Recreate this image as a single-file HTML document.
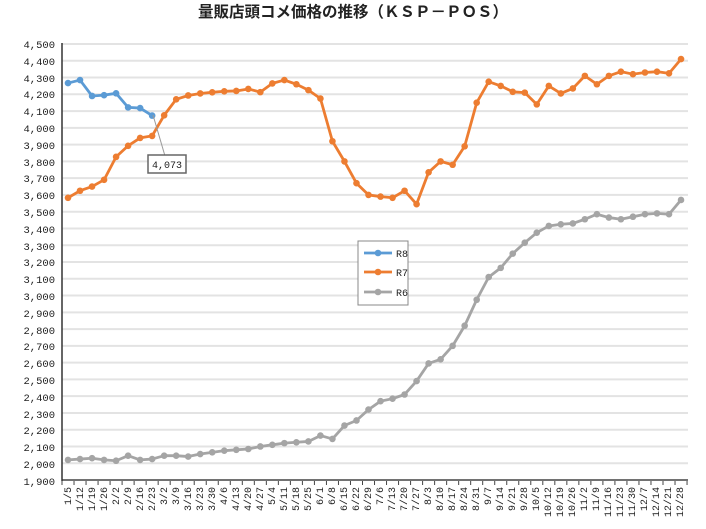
<!DOCTYPE html>
<html><head><meta charset="utf-8"><style>
body{margin:0;background:#fff;}
svg text{font-family:"Liberation Mono","Noto Sans CJK JP",monospace;}
svg text.t{font-family:"Liberation Sans","Noto Sans CJK JP",sans-serif;}
</style></head><body>
<svg id="s" width="706" height="524" xmlns="http://www.w3.org/2000/svg">
<rect width="706" height="524" fill="#fff"/>
<text class="t" x="353" y="17" text-anchor="middle" font-size="15.5" font-weight="bold" fill="#222">量販店頭コメ価格の推移（ＫＳＰ－ＰＯＳ）</text>
<g id="grid"></g>
<g font-size="10.5" fill="#222" text-anchor="end">
<text x="55" y="48">4,500</text><text x="55" y="65">4,400</text><text x="55" y="82">4,300</text><text x="55" y="98">4,200</text><text x="55" y="115">4,100</text><text x="55" y="132">4,000</text><text x="55" y="149">3,900</text><text x="55" y="166">3,800</text><text x="55" y="182">3,700</text><text x="55" y="199">3,600</text><text x="55" y="216">3,500</text><text x="55" y="233">3,400</text><text x="55" y="250">3,300</text><text x="55" y="266">3,200</text><text x="55" y="283">3,100</text><text x="55" y="300">3,000</text><text x="55" y="317">2,900</text><text x="55" y="334">2,800</text><text x="55" y="350">2,700</text><text x="55" y="367">2,600</text><text x="55" y="384">2,500</text><text x="55" y="401">2,400</text><text x="55" y="418">2,300</text><text x="55" y="434">2,200</text><text x="55" y="451">2,100</text><text x="55" y="468">2,000</text><text x="55" y="485">1,900</text>
</g>
<g id="xl" font-size="10" fill="#222" text-anchor="end">
<text transform="translate(71,487) rotate(-90)">1/5</text><text transform="translate(83,487) rotate(-90)">1/12</text><text transform="translate(95,487) rotate(-90)">1/19</text><text transform="translate(107,487) rotate(-90)">1/26</text><text transform="translate(119,487) rotate(-90)">2/2</text><text transform="translate(131,487) rotate(-90)">2/9</text><text transform="translate(143,487) rotate(-90)">2/16</text><text transform="translate(155,487) rotate(-90)">2/23</text><text transform="translate(167,487) rotate(-90)">3/2</text><text transform="translate(179,487) rotate(-90)">3/9</text><text transform="translate(191,487) rotate(-90)">3/16</text><text transform="translate(203,487) rotate(-90)">3/23</text><text transform="translate(215,487) rotate(-90)">3/30</text><text transform="translate(227,487) rotate(-90)">4/6</text><text transform="translate(239,487) rotate(-90)">4/13</text><text transform="translate(251,487) rotate(-90)">4/20</text><text transform="translate(263,487) rotate(-90)">4/27</text><text transform="translate(275,487) rotate(-90)">5/4</text><text transform="translate(287,487) rotate(-90)">5/11</text><text transform="translate(299,487) rotate(-90)">5/18</text><text transform="translate(311,487) rotate(-90)">5/25</text><text transform="translate(323,487) rotate(-90)">6/1</text><text transform="translate(335,487) rotate(-90)">6/8</text><text transform="translate(347,487) rotate(-90)">6/15</text><text transform="translate(359,487) rotate(-90)">6/22</text><text transform="translate(371,487) rotate(-90)">6/29</text><text transform="translate(383,487) rotate(-90)">7/6</text><text transform="translate(395,487) rotate(-90)">7/13</text><text transform="translate(407,487) rotate(-90)">7/20</text><text transform="translate(419,487) rotate(-90)">7/27</text><text transform="translate(431,487) rotate(-90)">8/3</text><text transform="translate(443,487) rotate(-90)">8/10</text><text transform="translate(455,487) rotate(-90)">8/17</text><text transform="translate(467,487) rotate(-90)">8/24</text><text transform="translate(479,487) rotate(-90)">8/31</text><text transform="translate(491,487) rotate(-90)">9/7</text><text transform="translate(503,487) rotate(-90)">9/14</text><text transform="translate(515,487) rotate(-90)">9/21</text><text transform="translate(527,487) rotate(-90)">9/28</text><text transform="translate(539,487) rotate(-90)">10/5</text><text transform="translate(551,487) rotate(-90)">10/12</text><text transform="translate(563,487) rotate(-90)">10/19</text><text transform="translate(575,487) rotate(-90)">10/26</text><text transform="translate(587,487) rotate(-90)">11/2</text><text transform="translate(599,487) rotate(-90)">11/9</text><text transform="translate(611,487) rotate(-90)">11/16</text><text transform="translate(623,487) rotate(-90)">11/23</text><text transform="translate(635,487) rotate(-90)">11/30</text><text transform="translate(647,487) rotate(-90)">12/7</text><text transform="translate(659,487) rotate(-90)">12/14</text><text transform="translate(671,487) rotate(-90)">12/21</text><text transform="translate(683,487) rotate(-90)">12/28</text>
</g>
<g id="ser"></g>
<line x1="153" y1="115" x2="165" y2="156" stroke="#999" stroke-width="1"/>
<rect x="148" y="155" width="38" height="18" fill="#fff" stroke="#666" stroke-width="1.5"/>
<text x="167" y="168" text-anchor="middle" font-size="10" fill="#222">4,073</text>
<rect x="358" y="241" width="50" height="64" fill="#fff" stroke="#888" stroke-width="1"/>
<g id="leg"></g>
<g font-size="10" fill="#222">
<text x="396" y="257">R8</text><text x="396" y="276">R7</text><text x="396" y="296">R6</text>
</g>
</svg>
<script>
var NS="http://www.w3.org/2000/svg";
function el(t,a,p){var e=document.createElementNS(NS,t);for(var k in a)e.setAttribute(k,a[k]);document.getElementById(p).appendChild(e);return e;}
function Y(v){return 44+(4500-v)*0.1677;}
function X(i){return 68+12.02*i;}
for(var v=1900;v<=4500;v+=100){el("line",{x1:62,x2:688,y1:Y(v),y2:Y(v),stroke:v==1900?"#444":"#e3e3e3","stroke-width":v==1900?1.5:2},"grid");}
el("line",{x1:62,x2:62,y1:43,y2:481,stroke:"#333","stroke-width":1.5},"grid");
for(var i=0;i<=52;i++){var x=62+12.02*i;el("line",{x1:x,x2:x,y1:481,y2:485,stroke:"#444","stroke-width":1},"grid");}
var R8=[4267,4285,4190,4195,4206,4122,4118,4073];
var R7=[3583,3625,3650,3690,3827,3893,3940,3952,4075,4170,4193,4205,4212,4218,4220,4232,4213,4265,4285,4260,4225,4175,3920,3800,3670,3600,3590,3583,3625,3545,3735,3800,3780,3890,4150,4275,4250,4215,4210,4140,4250,4205,4235,4310,4260,4310,4335,4320,4330,4335,4325,4410];
var R6=[2020,2025,2030,2020,2015,2045,2020,2025,2045,2045,2040,2055,2065,2075,2080,2085,2100,2110,2120,2125,2130,2165,2145,2225,2255,2320,2370,2385,2410,2490,2595,2620,2700,2820,2975,3110,3165,3250,3315,3375,3415,3425,3430,3455,3485,3465,3455,3470,3485,3490,3485,3570];
function ser(d,c){var p=d.map(function(v,i){return X(i)+","+Y(v)}).join(" ");
el("polyline",{points:p,fill:"none",stroke:c,"stroke-width":2.8,"stroke-linejoin":"round"},"ser");
d.forEach(function(v,i){el("circle",{cx:X(i),cy:Y(v),r:3.3,fill:c},"ser");});}
ser(R6,"#a5a5a5");ser(R7,"#ed7d31");ser(R8,"#5b9bd5");
[["#5b9bd5",253],["#ed7d31",272],["#a5a5a5",292]].forEach(function(a){
el("line",{x1:364,x2:392,y1:a[1],y2:a[1],stroke:a[0],"stroke-width":2.8},"leg");
el("circle",{cx:378,cy:a[1],r:3.3,fill:a[0]},"leg");});
</script>
</body></html>
